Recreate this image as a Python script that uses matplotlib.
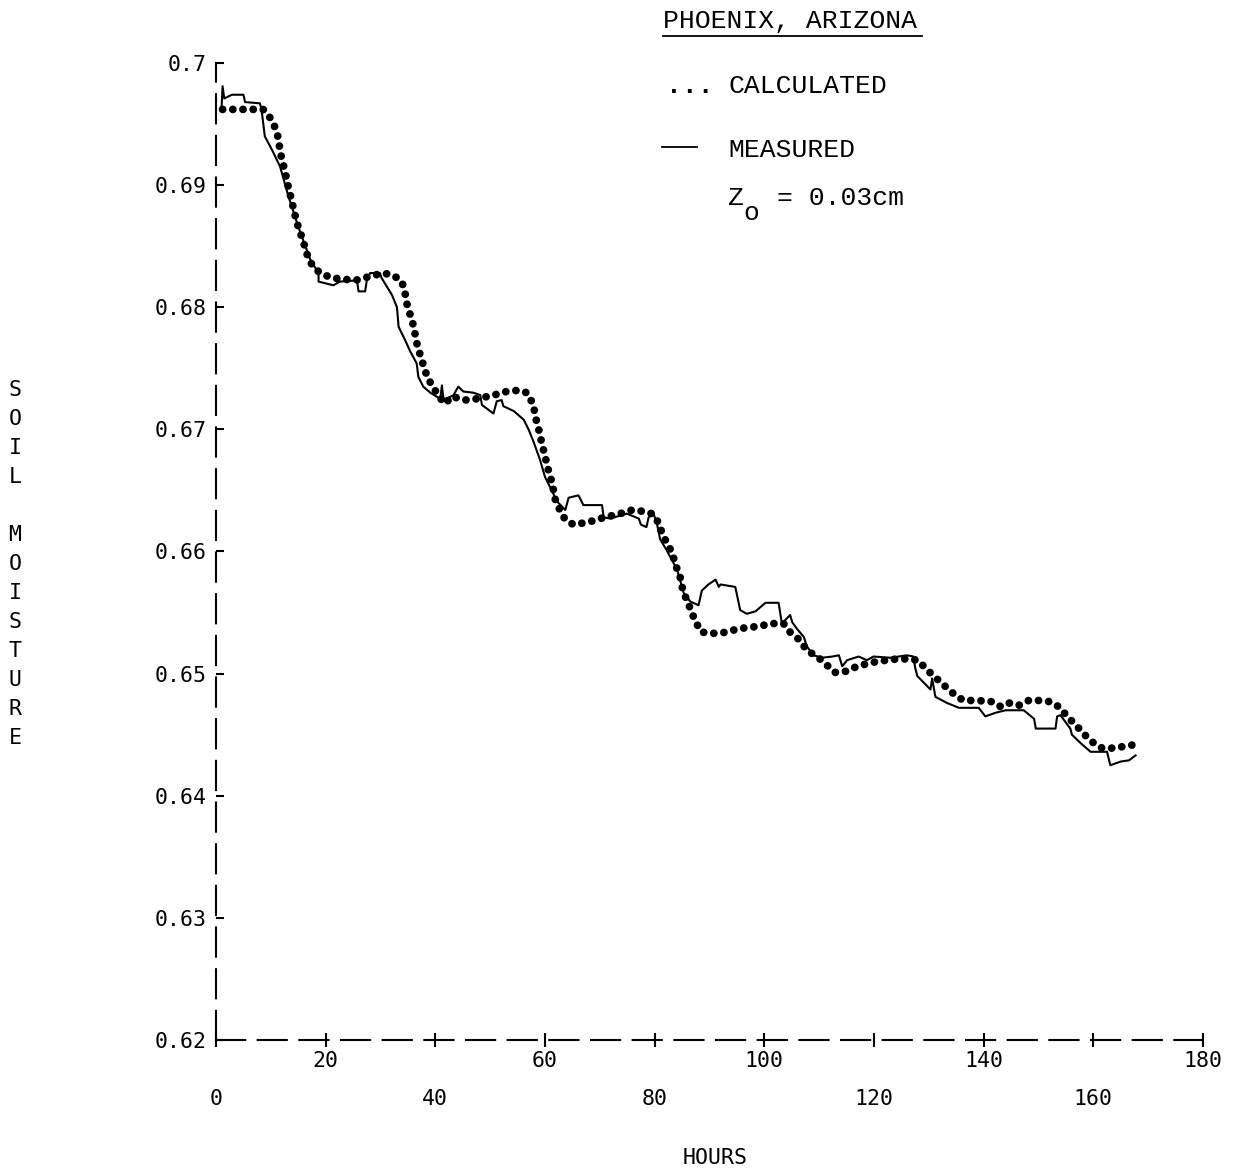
import matplotlib
matplotlib.use("Agg")
import matplotlib.pyplot as plt
from matplotlib.lines import Line2D

plt.rcParams['font.family'] = ['DejaVu Sans Mono']

# measured soil moisture, Phoenix run
meas_h = [1.0, 1.2, 1.5, 2.9, 5.0, 5.3, 8.0, 8.3, 8.9, 10.2, 11.7, 13.2, 15.0, 17.2, 18.7, 18.7,
          21.4, 22.6, 25.7, 26.0, 27.2, 27.5, 28.1, 29.9, 30.2, 32.1, 33.0, 33.3, 34.5, 35.4,
          36.6, 36.9, 37.8, 39.1, 40.9, 41.2, 41.5, 43.3, 44.2, 45.1, 47.0, 48.2, 48.5, 50.6,
          51.2, 52.1, 52.4, 54.3, 56.1, 57.0, 57.9, 59.1, 60.0, 60.9, 62.2, 63.7, 64.3, 66.1,
          67.0, 70.4, 70.7, 71.9, 74.9, 77.1, 77.5, 78.5, 78.9, 79.8, 80.4, 81.0, 82.2, 83.5,
          84.1, 85.3, 86.5, 88.0, 88.6, 89.8, 91.1, 91.7, 92.0, 94.7, 95.6, 96.8, 98.4, 100.2,
          102.6, 103.2, 104.7, 105.1, 105.9, 107.2, 107.8, 109.0, 110.5, 112.4, 113.6, 114.2,
          115.1, 117.2, 118.7, 119.9, 123.0, 126.0, 127.2, 127.5, 127.9, 130.3, 130.6, 131.2,
          133.3, 135.5, 139.1, 140.3, 142.2, 144.0, 147.3, 149.2, 149.5, 153.1, 153.4, 154.0,
          155.8, 156.1, 157.7, 159.5, 162.5, 163.1, 165.0, 166.5, 167.7]
meas_v = [0.6962, 0.6981, 0.6971, 0.6974, 0.6974, 0.6968, 0.6967, 0.6962, 0.6940, 0.6929,
          0.6915, 0.6891, 0.6866, 0.6839, 0.6828, 0.6821, 0.6818, 0.6821, 0.6822, 0.6813,
          0.6813, 0.6822, 0.6828, 0.6828, 0.6824, 0.6810, 0.6800, 0.6784, 0.6773, 0.6764,
          0.6754, 0.6743, 0.6735, 0.6730, 0.6725, 0.6736, 0.6724, 0.6728, 0.6735, 0.6731,
          0.6730, 0.6728, 0.6720, 0.6713, 0.6723, 0.6724, 0.6719, 0.6715, 0.6708, 0.6700,
          0.6690, 0.6675, 0.6661, 0.6653, 0.6641, 0.6634, 0.6644, 0.6646, 0.6638, 0.6638,
          0.6628, 0.6627, 0.6631, 0.6627, 0.6622, 0.6620, 0.6628, 0.6631, 0.6623, 0.6610,
          0.6601, 0.6590, 0.6585, 0.6566, 0.6559, 0.6556, 0.6568, 0.6573, 0.6577, 0.6571,
          0.6573, 0.6571, 0.6552, 0.6549, 0.6551, 0.6558, 0.6558, 0.6541, 0.6548, 0.6542,
          0.6537, 0.6530, 0.6522, 0.6515, 0.6513, 0.6514, 0.6515, 0.6506, 0.6511, 0.6514,
          0.6511, 0.6514, 0.6513, 0.6515, 0.6514, 0.6505, 0.6498, 0.6487, 0.6496, 0.6481,
          0.6476, 0.6472, 0.6472, 0.6465, 0.6468, 0.6470, 0.6470, 0.6463, 0.6455, 0.6455,
          0.6465, 0.6466, 0.6455, 0.6450, 0.6443, 0.6436, 0.6436, 0.6425, 0.6428, 0.6429,
          0.6433]

# model output (Zo = 0.03 cm)
calc_h = [1.2, 3.8, 6.2, 8.6, 9.9, 10.8, 11.4, 11.7, 12.6, 13.0, 13.6, 14.7, 15.9, 16.9, 17.8,
          19.0, 21.1, 25.4, 28.7, 30.5, 32.4, 33.9, 34.5, 34.8, 35.4, 36.0, 36.7, 37.3, 38.0,
          38.6, 39.7, 40.6, 41.8, 43.0, 45.4, 47.5, 50.6, 53.0, 55.2, 56.7, 57.9, 58.2, 58.8,
          59.4, 60.0, 60.6, 61.3, 61.9, 62.8, 63.7, 65.2, 67.9, 70.1, 71.9, 73.7, 75.9, 77.7,
          79.5, 80.4, 81.3, 82.2, 83.2, 83.8, 84.6, 85.0, 85.6, 86.6, 87.4, 88.5, 90.5, 92.0,
          93.8, 95.6, 97.6, 99.3, 101.2, 103.5, 104.7, 106.3, 107.8, 109.9, 111.4, 112.9,
          115.1, 116.9, 118.7, 120.6, 122.4, 124.2, 126.1, 128.0, 129.7, 130.9, 132.4, 133.6,
          135.2, 136.4, 138.8, 141.6, 143.1, 144.6, 146.4, 148.2, 150.1, 152.2, 154.0, 155.2,
          156.8, 158.4, 160.1, 161.6, 164.0, 166.2, 167.9]
calc_v = [0.6962, 0.6962, 0.6962, 0.6962, 0.6955, 0.6947, 0.6938, 0.6927, 0.6911, 0.6902,
          0.6891, 0.6870, 0.6854, 0.6839, 0.6833, 0.6828, 0.6824, 0.6822, 0.6826, 0.6828,
          0.6826, 0.6821, 0.6811, 0.6803, 0.6794, 0.6785, 0.6769, 0.6760, 0.6750, 0.6742,
          0.6734, 0.6727, 0.6721, 0.6727, 0.6724, 0.6725, 0.6728, 0.6731, 0.6732, 0.6730,
          0.6720, 0.6711, 0.6701, 0.6689, 0.6678, 0.6667, 0.6656, 0.6642, 0.6633, 0.6626,
          0.6622, 0.6624, 0.6627, 0.6629, 0.6631, 0.6634, 0.6633, 0.6631, 0.6626, 0.6616,
          0.6607, 0.6599, 0.6589, 0.6580, 0.6571, 0.6563, 0.6552, 0.6543, 0.6534, 0.6533,
          0.6533, 0.6535, 0.6537, 0.6538, 0.6539, 0.6541, 0.6541, 0.6534, 0.6528, 0.6519,
          0.6513, 0.6507, 0.6501, 0.6502, 0.6506, 0.6508, 0.6510, 0.6511, 0.6512, 0.6512,
          0.6511, 0.6503, 0.6498, 0.6492, 0.6487, 0.6481, 0.6478, 0.6478, 0.6477, 0.6473,
          0.6476, 0.6474, 0.6478, 0.6478, 0.6477, 0.6472, 0.6465, 0.6458, 0.6450, 0.6443,
          0.6439, 0.6439, 0.6441, 0.6442]

yticks = [0.62, 0.63, 0.64, 0.65, 0.66, 0.67, 0.68, 0.69, 0.70]
ylabels = ["0.62", "0.63", "0.64", "0.65", "0.66", "0.67", "0.68", "0.69", "0.7"]
xticks_low = [0, 40, 80, 120, 160]
xticks_high = [20, 60, 100, 140, 180]

W, H = 1253, 1174
fig = plt.figure(figsize=(W / 100, H / 100), dpi=100)
ax = fig.add_axes([216 / W, 1 - 1040 / H, (1203 - 216) / W, (1040 - 63) / H])

ax.plot(meas_h, meas_v, color="black", lw=1.5, zorder=2)
# plotter-style dots spaced evenly along the curve
ax.plot(calc_h, calc_v, color="black", lw=5.6, linestyle=(0, (0.01, 1.3)),
        dash_capstyle="round", zorder=3)

ax.set_xlim(0, 180)
ax.set_ylim(0.62, 0.70)
for s in ["top", "right"]:
    ax.spines[s].set_visible(False)
for s in ["left", "bottom"]:
    ax.spines[s].set_linewidth(1.5)
    ax.spines[s].set_linestyle((0, (14, 6)))

ax.set_yticks(yticks, labels=ylabels)
ax.tick_params(axis="y", direction="in", length=6, width=1.5, pad=7, labelsize=15.5)

# two staggered rows of hour labels
ax.set_xticks(xticks_low, labels=[str(v) for v in xticks_low])
ax.set_xticks(xticks_high, labels=[str(v) for v in xticks_high], minor=True)
ax.tick_params(axis="x", which="both", direction="inout", length=10, width=1.5, labelsize=15.5)
ax.tick_params(axis="x", which="major", pad=30)
ax.tick_params(axis="x", which="minor", pad=3)

fig.text(715 / W, 1 - 1158 / H, "HOURS", ha="center", va="center", fontsize=15.5)
fig.text(15 / W, 1 - 564 / H, "S\nO\nI\nL\n\nM\nO\nI\nS\nT\nU\nR\nE",
         ha="center", va="center", fontsize=15.5, linespacing=1.56)

# key in the upper right
mono = "Liberation Mono"
fig.text(663 / W, 1 - 28 / H, "PHOENIX, ARIZONA", family=mono, fontsize=19, va="baseline")
fig.add_artist(Line2D([663 / W, 922 / W], [1 - 36 / H, 1 - 36 / H], color="black", lw=1.3))
fig.text(666 / W, 1 - 93 / H, "...", family=mono, fontsize=19, fontweight="bold", va="baseline")
fig.text(728 / W, 1 - 93 / H, "CALCULATED", family=mono, fontsize=19, va="baseline")
fig.add_artist(Line2D([662 / W, 697 / W], [1 - 147 / H, 1 - 147 / H], color="black", lw=1.3))
fig.text(728 / W, 1 - 157 / H, "MEASURED", family=mono, fontsize=19, va="baseline")
fig.text(728 / W, 1 - 205 / H, "Z", family=mono, fontsize=19, va="baseline")
fig.text(743 / W, 1 - 220 / H, "o", family=mono, fontsize=19, va="baseline")
fig.text(777 / W, 1 - 205 / H, "= 0.03cm", family=mono, fontsize=19, va="baseline")

fig.savefig("out.png", dpi=100)
